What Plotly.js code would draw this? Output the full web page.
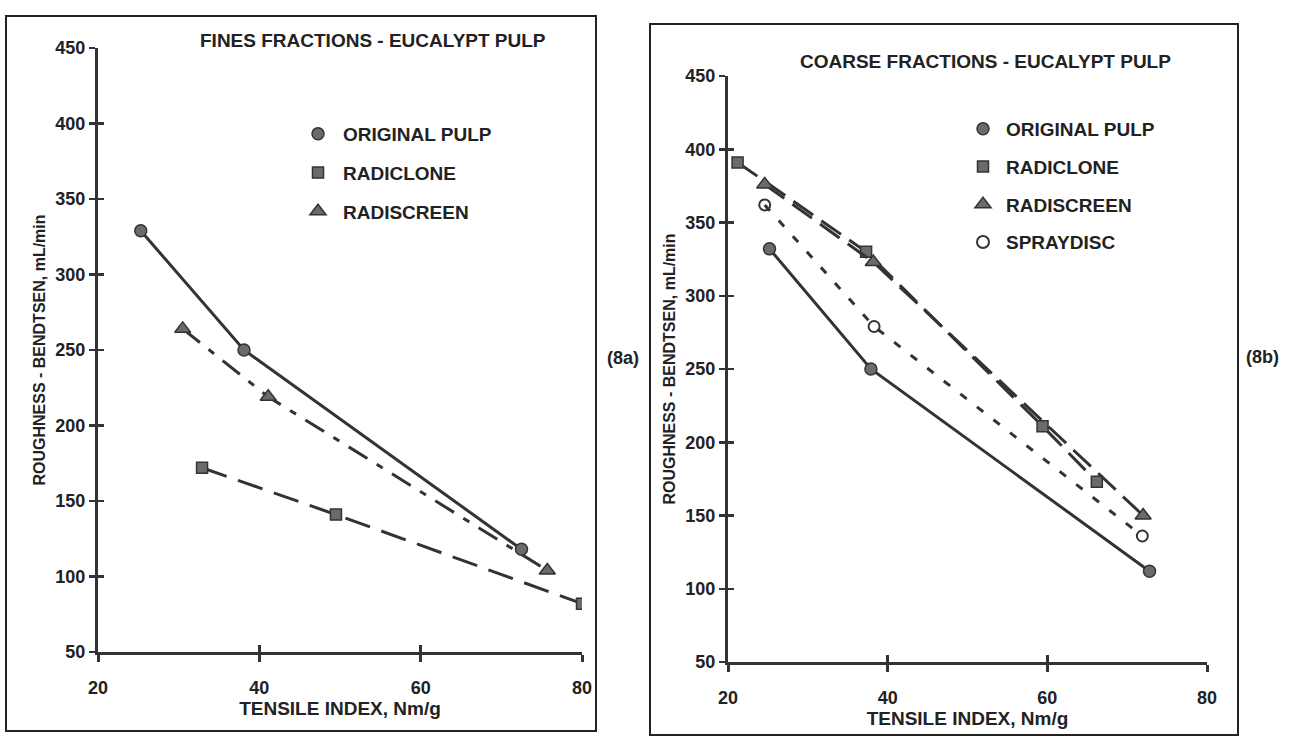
<!DOCTYPE html>
<html>
<head>
<meta charset="utf-8">
<script src="https://cdn.plot.ly/plotly-3.0.1.min.js"></script>
<style>html,body{margin:0;padding:0;background:#fff;}#chart{width:1298px;height:740px;}</style>
</head>
<body>
<div id="chart"></div>
<script>
// ---- Data ----
const seriesNames = ["ORIGINAL PULP", "RADICLONE", "RADISCREEN", "SPRAYDISC"];
const titleA = "FINES FRACTIONS - EUCALYPT PULP";
const titleB = "COARSE FRACTIONS - EUCALYPT PULP";
const xTitle = "TENSILE INDEX, Nm/g";
const yTitle = "ROUGHNESS - BENDTSEN, mL/min";
const xTicks = [20, 40, 60, 80];
const yTicks = [50, 100, 150, 200, 250, 300, 350, 400, 450];

// (8a) fines fractions
const origX_a = [25.3, 38.1, 72.5];
const origY_a = [329, 250, 118];
const clonX_a = [32.9, 49.5, 80.0];
const clonY_a = [172, 141, 82];
const scrX_a  = [30.5, 41.1, 75.7];
const scrY_a  = [264, 219, 104];

// (8b) coarse fractions
const origX_b = [25.2, 37.9, 72.8];
const origY_b = [332, 250, 112];
const clonX_b = [21.2, 37.3, 59.4, 66.2];
const clonY_b = [391, 330, 211, 173];
const scrX_b  = [24.6, 38.2, 72.0];
const scrY_b  = [376, 323, 150];
const sprX_b  = [24.6, 38.3, 71.9];
const sprY_b  = [362, 279, 136];

// ---- Styling ----
const W = 1298, H = 740;
const px = v => v / W;
const py = v => 1 - v / H;
const LINE = '#333';
const FILL = '#6b6b6b';
const FONT = 'Liberation Sans, Arial, sans-serif';
const mk = {
  circle:  {symbol:'circle', size:12, color:FILL, line:{color:LINE, width:1.5}},
  square:  {symbol:'square', size:11, color:FILL, line:{color:LINE, width:1.5}},
  tri:     {symbol:'triangle-up', size:14, color:FILL, line:{color:LINE, width:1.5}},
  ell:     {symbol:'circle-open', size:11, color:LINE, line:{color:LINE, width:2}}
};

function tr(x, y, xa, ya, marker, dash, name) {
  return {x:x, y:y, xaxis:xa, yaxis:ya, type:'scatter', mode:'lines+markers',
    line:{color:LINE, width:3, dash:dash}, marker:marker, name:name, showlegend:false,
    hoverinfo:'skip'};
}
function leg(name, marker, legendId) {
  return {x:[null], y:[null], xaxis: legendId === 'legend' ? 'x' : 'x2', yaxis: legendId === 'legend' ? 'y' : 'y2',
    type:'scatter', mode:'markers', marker:marker, name:name, legend:legendId,
    legendgroup:legendId + name, showlegend:true};
}

const traces = [
  tr(clonX_a, clonY_a, 'x', 'y', mk.square, '26px,12px', seriesNames[1]),
  tr(scrX_a, scrY_a, 'x', 'y', mk.tri, '22px,11px,7px,11px', seriesNames[2]),
  tr(origX_a, origY_a, 'x', 'y', mk.circle, 'solid', seriesNames[0]),

  tr(sprX_b, sprY_b, 'x2', 'y2', mk.ell, '8px,13px', seriesNames[3]),
  tr(clonX_b, clonY_b, 'x2', 'y2', mk.square, '24px,10px', seriesNames[1]),
  tr(scrX_b, scrY_b, 'x2', 'y2', mk.tri, '24px,10px', seriesNames[2]),
  tr(origX_b, origY_b, 'x2', 'y2', mk.circle, 'solid', seriesNames[0]),

  leg(seriesNames[0], mk.circle, 'legend'),
  leg(seriesNames[1], mk.square, 'legend'),
  leg(seriesNames[2], mk.tri, 'legend'),
  leg(seriesNames[0], mk.circle, 'legend2'),
  leg(seriesNames[1], mk.square, 'legend2'),
  leg(seriesNames[2], mk.tri, 'legend2'),
  leg(seriesNames[3], {symbol:'circle-open', size:12, color:LINE, line:{width:2}}, 'legend2'),

  // carriers for inside-tick overlay axes
  {x:[null], y:[null], xaxis:'x3', yaxis:'y3', type:'scatter', showlegend:false},
  {x:[null], y:[null], xaxis:'x4', yaxis:'y4', type:'scatter', showlegend:false}
];

const tickFont = {family:FONT, size:18, color:'#222', weight:'bold'};
const xTitleFont = {family:FONT, size:19, color:'#222', weight:'bold'};
const yTitleFont = {family:FONT, size:16, color:'#222', weight:'bold'};

function xax(domain, anchor) {
  return {domain:domain, anchor:anchor, range:[20, 80], tickvals:xTicks, ticktext:xTicks.map(String),
    showgrid:false, zeroline:false, showline:true, linecolor:LINE, linewidth:3,
    ticks:'outside', ticklen:7, tickwidth:3, tickcolor:LINE, tickfont:tickFont, ticklabelstandoff:10,
    title:{text:xTitle, font:xTitleFont, standoff:2}, fixedrange:true};
}
function yax(domain, anchor) {
  return {domain:domain, anchor:anchor, range:[50, 450], tickvals:yTicks, ticktext:yTicks.map(String),
    showgrid:false, zeroline:false, showline:true, linecolor:LINE, linewidth:3,
    ticks:'outside', ticklen:6, tickwidth:2.5, tickcolor:LINE, tickfont:tickFont,
    title:{text:yTitle, font:yTitleFont, standoff:6}, fixedrange:true};
}
function xin(over, anchor) {
  return {overlaying:over, anchor:anchor, range:[20, 80], tickvals:xTicks, showticklabels:false,
    showgrid:false, zeroline:false, showline:false, ticks:'inside', ticklen:7, tickwidth:3, tickcolor:LINE};
}
function yin(over, anchor) {
  return {overlaying:over, anchor:anchor, range:[50, 450], tickvals:yTicks, showticklabels:false,
    showgrid:false, zeroline:false, showline:false, ticks:'inside', ticklen:6, tickwidth:2.5, tickcolor:LINE};
}

const dxA = [px(98), px(582)], dyA = [py(652), py(48)];
const dxB = [px(728), px(1207)], dyB = [py(662), py(76)];

const legendFont = {family:FONT, size:19, color:'#222', weight:'bold'};
const layout = {
  width:W, height:H, margin:{l:0, r:0, t:0, b:0},
  paper_bgcolor:'#fff', plot_bgcolor:'rgba(0,0,0,0)',
  xaxis: xax(dxA, 'y'), yaxis: yax(dyA, 'x'),
  xaxis2: xax(dxB, 'y2'), yaxis2: yax(dyB, 'x2'),
  xaxis3: xin('x', 'y3'), yaxis3: yin('y', 'x3'),
  xaxis4: xin('x2', 'y4'), yaxis4: yin('y2', 'x4'),
  legend: {x:px(293), y:py(115), xanchor:'left', yanchor:'top', font:legendFont, itemwidth:40,
    bgcolor:'rgba(0,0,0,0)', tracegroupgap:11, itemclick:false, itemdoubleclick:false},
  legend2: {x:px(960), y:py(110), xanchor:'left', yanchor:'top', font:legendFont, itemwidth:36,
    bgcolor:'rgba(0,0,0,0)', tracegroupgap:10, itemclick:false, itemdoubleclick:false},
  shapes: [
    {type:'rect', xref:'paper', yref:'paper', x0:px(6), x1:px(596), y0:py(731), y1:py(16),
      line:{color:'#222', width:2}},
    {type:'rect', xref:'paper', yref:'paper', x0:px(650), x1:px(1238), y0:py(735), y1:py(24),
      line:{color:'#222', width:2}}
  ],
  annotations: [
    {text:titleA, xref:'paper', yref:'paper', x:px(373), y:py(40), showarrow:false,
      xanchor:'center', yanchor:'middle', font:{family:FONT, size:19, color:'#222', weight:'bold'}},
    {text:titleB, xref:'paper', yref:'paper', x:px(985), y:py(61), showarrow:false,
      xanchor:'center', yanchor:'middle', font:{family:FONT, size:19, color:'#222', weight:'bold'}},
    {text:'(8a)', xref:'paper', yref:'paper', x:px(623), y:py(358), showarrow:false,
      xanchor:'center', yanchor:'middle', font:{family:FONT, size:18, color:'#222', weight:'bold'}},
    {text:'(8b)', xref:'paper', yref:'paper', x:px(1262), y:py(357), showarrow:false,
      xanchor:'center', yanchor:'middle', font:{family:FONT, size:18, color:'#222', weight:'bold'}}
  ]
};

Plotly.newPlot('chart', traces, layout, {displayModeBar:false, staticPlot:true});
</script>
</body>
</html>
